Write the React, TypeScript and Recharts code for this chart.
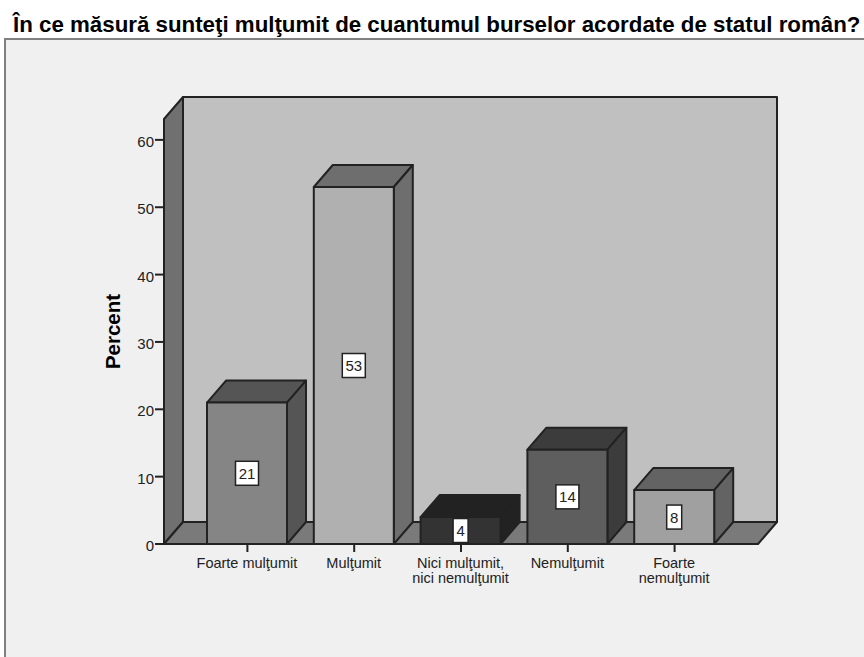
import { BarChart, Bar, XAxis, YAxis, LabelList, Customized } from "recharts";

const title = "În ce măsură sunteţi mulţumit de cuantumul burselor acordate de statul român?";
const categories = [
  "Foarte mulţumit",
  "Mulţumit",
  "Nici mulţumit,\nnici nemulţumit",
  "Nemulţumit",
  "Foarte\nnemulţumit",
];
const percents = [21, 53, 4, 14, 8];
const yTicks = [0, 10, 20, 30, 40, 50, 60];

const frontFills = ["#858585", "#b0b0b0", "#333333", "#5e5e5e", "#a0a0a0"];
const sideFills = ["#555555", "#6e6e6e", "#222222", "#3c3c3c", "#636363"];

const data = categories.map((name, i) => ({ name, percent: percents[i] }));

const FONT = "'Liberation Sans', Arial, sans-serif";
const LINE = "#222222";
const DX = 19;
const DY = 22;
const PLOT = { left: 164, top: 119, right: 758, bottom: 544 };

function Box3D(props: any) {
  const { x, y, width, height, index } = props;
  const r = x + width;
  const b = y + height;
  const stroke = { stroke: LINE, strokeWidth: 2, strokeLinejoin: "round" as const };
  return (
    <g>
      <polygon
        points={`${x},${y} ${x + DX},${y - DY} ${r + DX},${y - DY} ${r},${y}`}
        fill={sideFills[index]}
        {...stroke}
      />
      <polygon
        points={`${r},${y} ${r + DX},${y - DY} ${r + DX},${b - DY} ${r},${b}`}
        fill={sideFills[index]}
        {...stroke}
      />
      <rect x={x} y={y} width={width} height={height} fill={frontFills[index]} {...stroke} />
    </g>
  );
}

function Frame() {
  const { left, top, right, bottom } = PLOT;
  const stroke = { stroke: LINE, strokeWidth: 2, strokeLinejoin: "round" as const };
  return (
    <g>
      <rect x={left + DX} y={top - DY} width={right - left} height={bottom - top} fill="#c0c0c0" {...stroke} />
      <polygon
        points={`${left},${top} ${left + DX},${top - DY} ${left + DX},${bottom - DY} ${left},${bottom}`}
        fill="#707070"
        {...stroke}
      />
      <polygon
        points={`${left},${bottom} ${left + DX},${bottom - DY} ${right + DX},${bottom - DY} ${right},${bottom}`}
        fill="#7a7a7a"
        {...stroke}
      />
    </g>
  );
}

function CategoryTick(props: any) {
  const { x, y, payload } = props;
  const lines = String(payload.value).split("\n");
  return (
    <text x={x - 0.5} y={y} textAnchor="middle" fontFamily={FONT} fontSize={14.5} fill={LINE}>
      {lines.map((line, i) => (
        <tspan key={i} x={x - 0.5} y={y + 14 + i * 15}>
          {line}
        </tspan>
      ))}
    </text>
  );
}

function ValueTick(props: any) {
  const { x, y, payload } = props;
  return (
    <text x={x} y={y + 7} textAnchor="end" fontFamily={FONT} fontSize={15} fill={LINE}>
      {payload.value}
    </text>
  );
}

function ValueBox(props: any) {
  const { x, y, width, height, value } = props;
  const w = String(value).length > 1 ? 23 : 15;
  const h = 24;
  const cx = x + width / 2;
  const cy = y + height / 2;
  return (
    <g>
      <rect x={cx - w / 2} y={cy - h / 2} width={w} height={h} fill="#ffffff" stroke={LINE} strokeWidth={1.5} />
      <text x={cx} y={cy + 5.5} textAnchor="middle" fontFamily={FONT} fontSize={15} fill={LINE}>
        {value}
      </text>
    </g>
  );
}

export default function App() {
  return (
    <div style={{ position: "absolute", left: 0, top: 0, width: 864, height: 657, background: "#ffffff", overflow: "hidden" }}>
      <div
        style={{
          position: "absolute",
          left: 4,
          top: 38,
          width: 860,
          height: 619,
          boxSizing: "border-box",
          background: "#f0f0f0",
          borderLeft: "2px solid #808080",
          borderTop: "2px solid #808080",
        }}
      />
      <div
        style={{
          position: "absolute",
          left: 13,
          top: 13,
          fontFamily: FONT,
          fontWeight: "bold",
          fontSize: 22.3,
          lineHeight: "24px",
          whiteSpace: "nowrap",
          color: "#000000",
        }}
      >
        {title}
      </div>
      <div style={{ position: "absolute", left: 0, top: 0 }}>
        <BarChart
          width={864}
          height={657}
          data={data}
          margin={{ top: PLOT.top, right: 864 - PLOT.right, bottom: 0, left: 0 }}
        >
          <Customized component={Frame} />
          <XAxis
            dataKey="name"
            height={657 - PLOT.bottom}
            interval={0}
            padding={{ left: 30, right: 30 }}
            axisLine={false}
            tickLine={{ stroke: LINE, strokeWidth: 2 }}
            tickSize={8}
            tick={<CategoryTick />}
          />
          <YAxis
            width={PLOT.left}
            domain={[0, 63.1]}
            ticks={yTicks}
            interval={0}
            axisLine={false}
            tickLine={{ stroke: LINE, strokeWidth: 2 }}
            tickSize={9}
            tickMargin={1}
            tick={<ValueTick />}
            label={{
              value: "Percent",
              angle: -90,
              position: "insideLeft",
              offset: 113,
              style: { fontFamily: FONT, fontSize: 20.5, fontWeight: "bold", fill: "#000000", textAnchor: "middle" },
            }}
          />
          <Bar dataKey="percent" barSize={80} isAnimationActive={false} shape={<Box3D />}>
            <LabelList dataKey="percent" content={<ValueBox />} />
          </Bar>
        </BarChart>
      </div>
    </div>
  );
}
